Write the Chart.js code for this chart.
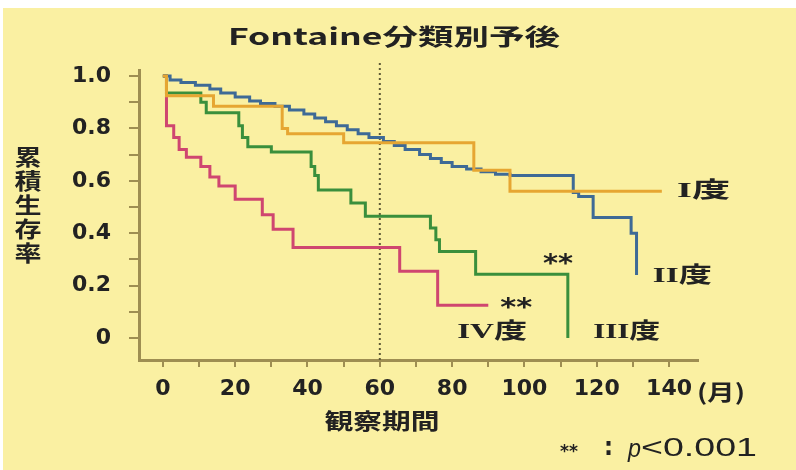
<!DOCTYPE html>
<html>
<head>
<meta charset="utf-8">
<script src="https://cdn.jsdelivr.net/npm/chart.js@4"></script>
<style>
  html, body { margin: 0; padding: 0; background: #fff; }
  #wrap { width: 796px; height: 470px; }
</style>
</head>
<body>
<div id="wrap"><canvas id="kmChart" width="796" height="470"></canvas></div>
<script>
// Kaplan-Meier steps (month, cumulative survival)
const monthsI = [0, 1, 14, 33, 34.5, 50, 86, 96, 138];
const survI   = [1.0, 0.925, 0.885, 0.80, 0.78, 0.745, 0.64, 0.56, 0.56];

const monthsII = [0, 2, 5, 9, 13, 16, 20, 24, 27, 31, 35, 39, 42, 45, 48, 51, 54, 57, 61, 64, 67, 71, 74, 77, 80, 84, 88, 92, 96, 113.5, 115, 119, 129.5, 131];
const survII   = [1.0, 0.985, 0.975, 0.965, 0.95, 0.935, 0.92, 0.905, 0.895, 0.885, 0.87, 0.855, 0.84, 0.825, 0.81, 0.795, 0.78, 0.765, 0.75, 0.735, 0.72, 0.70, 0.685, 0.67, 0.655, 0.645, 0.635, 0.625, 0.62, 0.555, 0.54, 0.46, 0.40, 0.24];

const monthsIII = [0, 1, 10.5, 12, 21, 22, 23.5, 30, 41, 42, 43, 52, 56, 74, 75.5, 76.5, 86.5, 112];
const survIII   = [1.0, 0.935, 0.90, 0.86, 0.81, 0.765, 0.73, 0.71, 0.655, 0.62, 0.565, 0.515, 0.465, 0.42, 0.375, 0.33, 0.243, 0.0];

const monthsIV = [0, 1, 3, 4.5, 6.5, 10.5, 13, 15.5, 20, 27.5, 30.5, 36, 65.5, 76, 90];
const survIV   = [1.0, 0.81, 0.765, 0.72, 0.69, 0.655, 0.615, 0.58, 0.53, 0.47, 0.415, 0.345, 0.255, 0.125, 0.125];

const gradeLabels = ['I度', 'II度', 'III度', 'IV度'];
const gradeColors = ['#e6a632', '#3e6a96', '#3a8f3c', '#cf4670'];

const xTickValues = [0, 10, 20, 30, 40, 50, 60, 70, 80, 90, 100, 110, 120, 130, 140];
const yTickValues = [0, 0.1, 0.2, 0.3, 0.4, 0.5, 0.6, 0.7, 0.8, 0.9, 1.0];
const landmarkMonth = 60;

const axisColor = '#9e8e52';
const textColor = '#222';
const jpFont = "'Noto Sans CJK JP', 'DejaVu Sans', sans-serif";
const labelFont = "bold 22px 'Liberation Serif', 'Noto Sans CJK JP', serif";

const toPoints = (xs, ys) => xs.map((x, i) => ({ x: x, y: ys[i] }));

const curves = [
    [monthsI, survI], [monthsII, survII], [monthsIII, survIII], [monthsIV, survIV]
].map(([xs, ys], i) => ({
    label: gradeLabels[i],
    data: toPoints(xs, ys),
    borderColor: gradeColors[i],
    borderWidth: 3,
    pointRadius: 0,
    stepped: 'before',
    fill: false
}));

const X_MIN = -6.6, X_MAX = 148, Y_MIN = -0.084, Y_MAX = 1.023;

const landmarkLine = {
    label: 'landmark',
    data: [{ x: landmarkMonth, y: Y_MIN }, { x: landmarkMonth, y: 1.055 }],
    borderColor: '#5e5a36',
    borderWidth: 2,
    borderDash: [2, 3],
    pointRadius: 0,
    clip: false
};

// draws text squeezed/stretched horizontally to a given width (the source lettering is wide)
function fitText(c, text, x, y, width, font, align) {
    c.font = font;
    const sx = width / c.measureText(text).width;
    c.save();
    c.translate(x, y);
    c.scale(sx, 1);
    c.textAlign = align;
    c.fillText(text, 0, 0);
    c.restore();
}

const textPlugin = {
    id: 'texts',
    beforeDraw(chart) {
        const c = chart.ctx;
        c.save();
        c.fillStyle = '#faf0a2';
        c.fillRect(3, 8, 793, 462);
        c.restore();
    },
    afterDraw(chart) {
        const c = chart.ctx;
        const xs = chart.scales.x, ys = chart.scales.y;
        c.save();
        c.fillStyle = textColor;
        c.textBaseline = 'middle';

        fitText(c, 'Fontaine分類別予後', 394, 36, 332, "bold 23px " + jpFont, 'center');

        // y title, one character per line
        '累積生存率'.split('').forEach((ch, i) =>
            fitText(c, ch, 28, 157 + i * 24, 27, "bold 22px " + jpFont, 'center'));

        fitText(c, '観察期間', 382, 421, 115, "bold 22px " + jpFont, 'center');
        fitText(c, '(月)', 697, 392, 48, "bold 22px " + jpFont, 'left');

        // curve labels
        fitText(c, gradeLabels[0], xs.getPixelForValue(142.2), ys.getPixelForValue(0.56), 53, labelFont, 'left');
        fitText(c, gradeLabels[1], xs.getPixelForValue(135.5), ys.getPixelForValue(0.235), 59, labelFont, 'left');
        fitText(c, gradeLabels[2], xs.getPixelForValue(119), ys.getPixelForValue(0.02), 67, labelFont, 'left');
        fitText(c, gradeLabels[3], xs.getPixelForValue(81.4), ys.getPixelForValue(0.02), 70, labelFont, 'left');

        // significance marks
        const starFont = "bold 24px 'DejaVu Sans', sans-serif";
        fitText(c, '**', xs.getPixelForValue(109.3), ys.getPixelForValue(0.28), 30, starFont, 'center');
        fitText(c, '**', xs.getPixelForValue(97.7), ys.getPixelForValue(0.11), 32, starFont, 'center');

        // p value note
        fitText(c, '**', 560, 452, 18, "bold 18px 'DejaVu Sans', sans-serif", 'left');
        fitText(c, ':', 604, 449, 9, "bold 24px 'DejaVu Sans', sans-serif", 'left');
        fitText(c, 'p', 628, 450, 13, "italic 25px 'Liberation Sans', sans-serif", 'left');
        fitText(c, '<0.001', 641, 449, 116, "25px 'Liberation Sans', sans-serif", 'left');
        c.restore();
    }
};

const tickFont = { family: 'DejaVu Sans', size: 22, weight: 'bold' };

new Chart(document.getElementById('kmChart'), {
    type: 'line',
    data: { datasets: curves.concat([landmarkLine]) },
    options: {
        responsive: false,
        animation: false,
        layout: { padding: { left: 0, top: 70, right: 98, bottom: 0 } },
        plugins: {
            legend: { display: false },
            tooltip: { enabled: false }
        },
        scales: {
            x: {
                type: 'linear',
                min: X_MIN,
                max: X_MAX,
                afterBuildTicks: s => { s.ticks = xTickValues.map(v => ({ value: v })); },
                afterFit: s => { s.height = 110; },
                grid: { drawOnChartArea: false, drawTicks: true, tickLength: 7, color: axisColor, lineWidth: 2 },
                border: { display: true, color: axisColor, width: 3 },
                ticks: {
                    autoSkip: false,
                    maxRotation: 0,
                    padding: 9,
                    color: textColor,
                    font: tickFont,
                    callback: v => (v % 20 === 0 ? String(v) : '')
                }
            },
            y: {
                type: 'linear',
                min: Y_MIN,
                max: Y_MAX,
                afterBuildTicks: s => { s.ticks = yTickValues.map(v => ({ value: v })); },
                afterFit: s => { s.width = 139; },
                grid: { drawOnChartArea: false, drawTicks: true, tickLength: 10, color: axisColor, lineWidth: 2 },
                border: { display: true, color: axisColor, width: 3 },
                ticks: {
                    autoSkip: false,
                    padding: 18,
                    color: textColor,
                    font: tickFont,
                    callback: v => {
                        const r = Math.round(v * 10);
                        if (r === 0) return '0';
                        return r % 2 === 0 ? (r / 10).toFixed(1) : '';
                    }
                }
            }
        }
    },
    plugins: [textPlugin]
});
</script>
</body>
</html>
